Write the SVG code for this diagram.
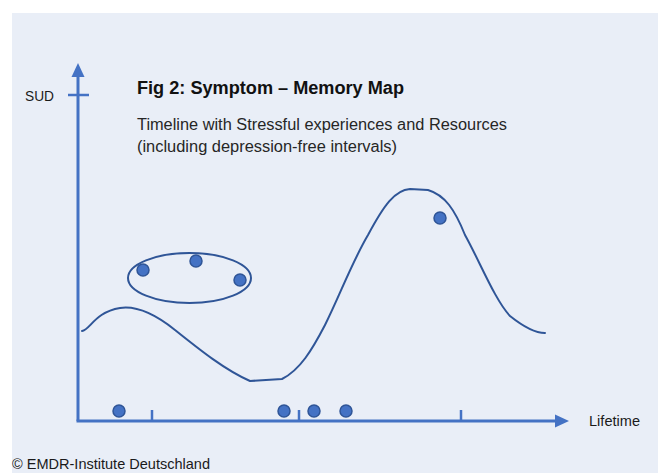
<svg xmlns="http://www.w3.org/2000/svg" width="664" height="473" viewBox="0 0 664 473">
<defs>
<style>
.axis{stroke:#4472c4;stroke-width:3;fill:none}
.tick{stroke:#4472c4;stroke-width:2.5;fill:none}
.curve{stroke:#2f5597;stroke-width:2;fill:none;stroke-linejoin:round;stroke-linecap:round}
.dot{fill:#4472c4;stroke:#2f5597;stroke-width:1.5}
.lbl{font-family:"Liberation Sans",Arial,sans-serif;font-size:15px;fill:#1a1a1a}
.title{font-family:"Liberation Sans",Arial,sans-serif;font-size:18px;font-weight:bold;fill:#111111}
.sub{font-family:"Liberation Sans",Arial,sans-serif;font-size:16px;fill:#262626}
</style>
</defs>
<rect x="0" y="0" width="664" height="473" fill="#ffffff"/>
<rect x="12" y="13" width="646" height="470" fill="#e9eef7"/>
<g id="axes">
<line class="axis" x1="78" y1="421" x2="78" y2="76"/>
<polygon points="78,63 71.5,77 84.5,77" fill="#4472c4"/>
<line class="tick" x1="68" y1="95" x2="89" y2="95"/>
<line class="axis" x1="76.5" y1="421" x2="556" y2="421"/>
<polygon points="569,421 555,414.5 555,427.5" fill="#4472c4"/>
<line class="tick" x1="152" y1="410" x2="152" y2="421"/>
<line class="tick" x1="299" y1="410" x2="299" y2="421"/>
<line class="tick" x1="461" y1="410" x2="461" y2="421"/>
</g>
<g id="labels">
<text class="lbl" x="25" y="101" textLength="29" lengthAdjust="spacingAndGlyphs">SUD</text>
<text class="lbl" x="589" y="426" textLength="51" lengthAdjust="spacingAndGlyphs">Lifetime</text>
<text class="title" x="137" y="94" textLength="267" lengthAdjust="spacingAndGlyphs">Fig 2: Symptom – Memory Map</text>
<text class="sub" x="137" y="130" textLength="370" lengthAdjust="spacingAndGlyphs">Timeline with Stressful experiences and Resources</text>
<text class="sub" x="137" y="152" textLength="260" lengthAdjust="spacingAndGlyphs">(including depression-free intervals)</text>
<text class="lbl" x="12" y="469" textLength="198" lengthAdjust="spacingAndGlyphs">© EMDR-Institute Deutschland</text>
</g>
<g id="curve">
<path class="curve" d="M82,331 C90,330 95,312 120,308 C140,305 160,318 175,330 C200,350 225,370 250,381 L282,379 C300,370 312,350 325,325 C340,295 352,262 368,235 C384,205 395,190 410,189 L428,190 C445,195 455,210 465,235 C480,262 495,300 510,316 C525,328 535,333 545,333"/>
</g>
<g id="group-ellipse">
<ellipse cx="189.5" cy="278" rx="61.5" ry="25" fill="none" stroke="#2f5597" stroke-width="2"/>
<circle class="dot" cx="143" cy="270" r="6"/>
<circle class="dot" cx="196" cy="261" r="6"/>
<circle class="dot" cx="240" cy="280" r="6"/>
</g>
<g id="dot-peak"><circle class="dot" cx="440" cy="218" r="6"/></g>
<g id="dots-timeline">
<circle class="dot" cx="119" cy="411" r="6"/>
<circle class="dot" cx="284" cy="411" r="6"/>
<circle class="dot" cx="314" cy="411" r="6"/>
<circle class="dot" cx="346" cy="411" r="6"/>
</g>
</svg>
